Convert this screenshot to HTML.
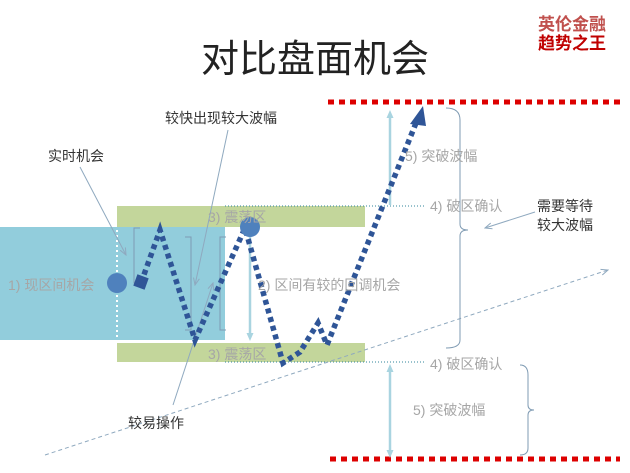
<!DOCTYPE html>
<html><head><meta charset="utf-8"><style>
body{margin:0;background:#fff;}
svg{display:block;font-family:"Liberation Sans","Noto Sans CJK SC",sans-serif;}
</style></head><body>
<svg width="630" height="473" viewBox="0 0 630 473">
<defs>
<marker id="ab" markerUnits="userSpaceOnUse" markerWidth="8" markerHeight="8" refX="4" refY="4" orient="auto"><path d="M0,0.5 L8,4 L0,7.5 z" fill="#a9d4e0"/></marker>
<marker id="ag" markerUnits="userSpaceOnUse" markerWidth="8" markerHeight="8" refX="7" refY="4" orient="auto"><path d="M0,1 L7,4 L0,7" fill="none" stroke="#8fa9bf" stroke-width="1"/></marker>
</defs>
<rect x="0" y="227" width="225" height="113" fill="#92cddc"/>
<rect x="117" y="206" width="248" height="21" fill="#c3d69b"/>
<rect x="117" y="343" width="248" height="19" fill="#c3d69b"/>
<line x1="117" y1="230" x2="117" y2="338" stroke="#fff" stroke-width="2" stroke-dasharray="2,3"/>
<line x1="225" y1="206" x2="425" y2="206" stroke="#31849b" stroke-width="1" stroke-dasharray="1,2"/>
<line x1="225" y1="362" x2="425" y2="362" stroke="#31849b" stroke-width="1" stroke-dasharray="1,2"/>
<line x1="328" y1="102" x2="620" y2="102" stroke="#d00" stroke-width="5" stroke-dasharray="6,5"/>
<line x1="330" y1="459" x2="620" y2="459" stroke="#d00" stroke-width="5" stroke-dasharray="6,5"/>
<line x1="45" y1="455" x2="608" y2="270" stroke="#8fa9bf" stroke-width="1" stroke-dasharray="4,3" marker-end="url(#ag)"/>
<line x1="250" y1="237" x2="250" y2="337" stroke="#a9d4e0" stroke-width="2.5" marker-end="url(#ab)"/>
<line x1="390" y1="205" x2="390" y2="114" stroke="#a9d4e0" stroke-width="2.5" marker-end="url(#ab)"/>
<line x1="390" y1="410" x2="390" y2="368" stroke="#a9d4e0" stroke-width="2.5" marker-end="url(#ab)"/>
<line x1="390" y1="410" x2="390" y2="454" stroke="#a9d4e0" stroke-width="2.5" marker-end="url(#ab)"/>
<g fill="none" stroke="#7f9bb3" stroke-width="1">
<path d="M446,108 Q460,108 460,120 L460,224 Q460,230 468,230 Q460,230 460,236 L460,340 Q460,348 446,348"/>
<path d="M520,365 Q528,365 528,375 L528,405 Q528,410 534,410 Q528,410 528,415 L528,448 Q528,455 520,455"/>
<path d="M140,228 L134,228 L134,283 L140,283"/>
<path d="M185,237 L191,237 L191,330 L185,330"/>
<path d="M226,237 L220,237 L220,330 L226,330"/>
</g>
<g stroke="#8fa9bf" stroke-width="1" fill="none">
<line x1="80" y1="167" x2="126" y2="255" marker-end="url(#ag)"/>
<line x1="228" y1="130" x2="195" y2="285" marker-end="url(#ag)"/>
<line x1="173" y1="405" x2="213" y2="283" marker-end="url(#ag)"/>
<line x1="535" y1="212" x2="485" y2="228" marker-end="url(#ag)"/>
</g>
<path d="M141,283 L160,230 L195,340 L245,228 L283,363 L300,352 L318,323 L327,345 L418,118" fill="none" stroke="#2f5597" stroke-width="5.5" stroke-dasharray="5,4"/>
<path d="M423,106 L410,124 L426,126 z" fill="#2f5597"/>
<rect x="135" y="276" width="12" height="12" fill="#2f5597" transform="rotate(20 141 282)"/>
<circle cx="117" cy="283" r="10" fill="#4f81bd"/>
<circle cx="250" cy="227" r="10" fill="#4f81bd"/>
<text x="315" y="72" font-size="38" text-anchor="middle" fill="#222">对比盘面机会</text>
<g font-size="14" fill="#333">
<text x="165" y="123">较快出现较大波幅</text>
<text x="48" y="161">实时机会</text>
<text x="537" y="211">需要等待</text>
<text x="537" y="230">较大波幅</text>
<text x="128" y="428">较易操作</text>
</g>
<g font-size="14" fill="#a6a6a6">
<text x="8" y="290">1) 现区间机会</text>
<text x="258" y="290">2) 区间有较的回调机会</text>
<text x="208" y="222">3) 震荡区</text>
<text x="208" y="359">3) 震荡区</text>
<text x="430" y="211">4) 破区确认</text>
<text x="430" y="369">4) 破区确认</text>
<text x="405" y="161">5) 突破波幅</text>
<text x="413" y="415">5) 突破波幅</text>
</g>
<g font-size="17" font-weight="bold" text-anchor="middle">
<text x="572" y="30" fill="#c0504d">英伦金融</text>
<text x="572" y="49" fill="#c00000">趋势之王</text>
</g>
</svg>
</body></html>
